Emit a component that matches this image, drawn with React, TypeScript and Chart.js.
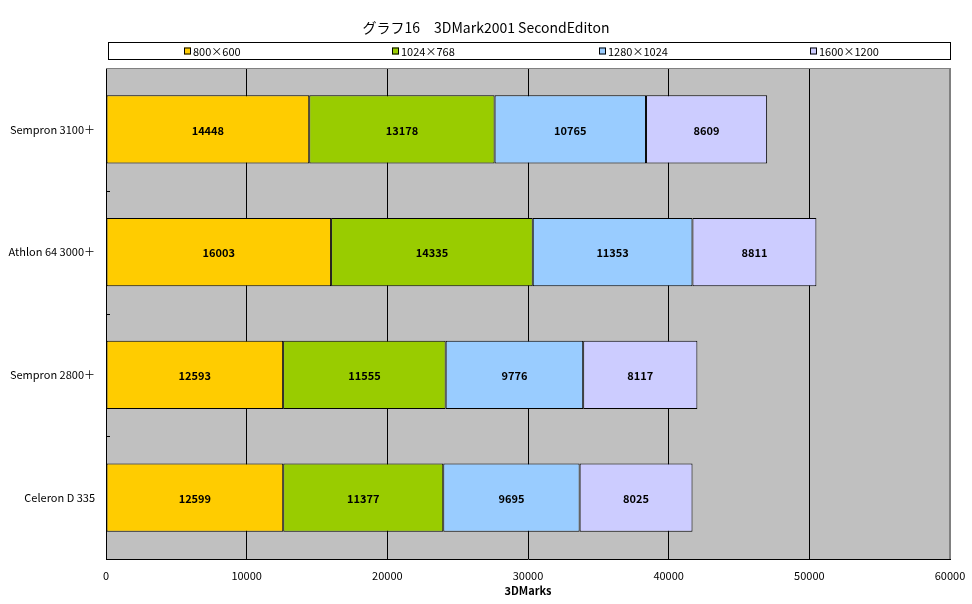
import React, { useEffect, useRef } from "react";
import { Chart, registerables } from "chart.js";

Chart.register(...registerables);

const TITLE = "グラフ16　3DMark2001 SecondEditon";
const X_TITLE = "3DMarks";
const categories = ["Sempron 3100＋", "Athlon 64 3000＋", "Sempron 2800＋", "Celeron D 335"];
const seriesNames = ["800×600", "1024×768", "1280×1024", "1600×1200"];
const seriesColors = ["#FFCC00", "#99CC00", "#99CCFF", "#CCCCFF"];
const s800 = [14448, 16003, 12593, 12599];
const s1024 = [13178, 14335, 11555, 11377];
const s1280 = [10765, 11353, 9776, 9695];
const s1600 = [8609, 8811, 8117, 8025];
const seriesValues = [s800, s1024, s1280, s1600];
const X_MIN = 0;
const X_MAX = 60000;
const X_STEP = 10000;

const FONT = "'Noto Sans CJK JP', 'Liberation Sans', sans-serif";

const decorPlugin = {
  id: "decor",
  beforeDraw(chart: any) {
    const { ctx, chartArea: a } = chart;
    ctx.save();
    ctx.fillStyle = "#C0C0C0";
    ctx.fillRect(a.left, a.top, a.right - a.left, a.bottom - a.top);
    ctx.restore();
  },
  afterDatasetsDraw(chart: any) {
    const { ctx, chartArea: a } = chart;
    ctx.save();
    // data labels
    ctx.font = "bold 11px " + FONT;
    ctx.fillStyle = "#000";
    ctx.textAlign = "center";
    ctx.textBaseline = "middle";
    chart.data.datasets.forEach((ds: any, di: number) => {
      const meta = chart.getDatasetMeta(di);
      meta.data.forEach((el: any, i: number) => {
        const x = (el.x + el.base) / 2;
        ctx.fillText(String(ds.data[i]), x, el.y + 1);
      });
    });
    // top & right borders
    ctx.strokeStyle = "#808080";
    ctx.lineWidth = 1;
    ctx.beginPath();
    ctx.moveTo(a.left, a.top + 0.5);
    ctx.lineTo(a.right, a.top + 0.5);
    ctx.moveTo(Math.round(a.right) - 0.5, a.top);
    ctx.lineTo(Math.round(a.right) - 0.5, a.bottom);
    ctx.stroke();
    // inward category ticks
    const y = chart.scales.y;
    const n = chart.data.labels.length;
    const band = (a.bottom - a.top) / n;
    ctx.strokeStyle = "#000";
    ctx.beginPath();
    for (let i = 1; i < n; i++) {
      const yy = Math.round(y.getPixelForValue(i) - band / 2) + 0.5;
      ctx.moveTo(a.left, yy);
      ctx.lineTo(a.left + 4, yy);
    }
    ctx.stroke();
    // title
    ctx.font = "14px " + FONT;
    ctx.textAlign = "center";
    ctx.fillText(TITLE, chart.width / 2, 28);
    // legend box
    const lx = 108, lr = 950, lt = 42, lb = 59;
    ctx.strokeStyle = "#000";
    ctx.strokeRect(lx + 0.5, lt + 0.5, lr - lx, lb - lt);
    const slot = (lr - lx) / chart.data.datasets.length;
    ctx.font = "11px " + FONT;
    ctx.textAlign = "left";
    chart.data.datasets.forEach((ds: any, di: number) => {
      const tw = ctx.measureText(ds.label).width;
      const total = 8 + 2 + tw;
      const sx = Math.round(lx + slot * di + slot / 2 - total / 2);
      const cy = (lt + lb) / 2 + 1;
      ctx.fillStyle = ds.backgroundColor;
      ctx.fillRect(sx, cy - 4, 7, 7);
      ctx.strokeStyle = "#000";
      ctx.strokeRect(sx + 0.5, cy - 3.5, 6, 6);
      ctx.fillStyle = "#000";
      ctx.fillText(ds.label, sx + 9, cy);
    });
    ctx.restore();
  },
};

export default function App() {
  const ref = useRef<HTMLCanvasElement | null>(null);
  useEffect(() => {
    if (!ref.current) return;
    const chart = new Chart(ref.current, {
      type: "bar",
      data: {
        labels: categories,
        datasets: seriesNames.map((name, i) => ({
          label: name,
          data: seriesValues[i],
          backgroundColor: seriesColors[i],
          borderColor: "#000",
          borderWidth: 1,
          borderSkipped: false,
          barPercentage: 0.555,
          categoryPercentage: 1,
        })),
      },
      plugins: [decorPlugin],
      options: {
        indexAxis: "y",
        animation: false,
        responsive: true,
        maintainAspectRatio: false,
        layout: { padding: { top: 68, right: 22, left: 0, bottom: 0 } },
        plugins: {
          legend: { display: false },
          title: { display: false },
          tooltip: { enabled: false },
        },
        scales: {
          x: {
            stacked: true,
            min: X_MIN,
            max: X_MAX,
            ticks: {
              stepSize: X_STEP,
              color: "#000",
              font: { family: FONT, size: 11 },
              padding: 10,
              callback: (v: any) => String(v),
            },
            grid: {
              color: (c: any) => (c.tick && c.tick.value === X_MAX ? "#808080" : "#000"),
              drawTicks: false,
              lineWidth: 1,
            },
            border: { color: "#000" },
            title: {
              display: true,
              text: X_TITLE,
              color: "#000",
              font: { family: FONT, size: 11, weight: "bold" },
              padding: { top: 0, bottom: 7 },
            },
            afterFit: (s: any) => {
              s.height = 45;
              s.paddingRight = 0;
              s.paddingLeft = 0;
            },
          },
          y: {
            stacked: true,
            ticks: {
              color: "#000",
              font: { family: FONT, size: 11 },
              padding: 3,
            },
            grid: { display: false },
            border: { color: "#000" },
            afterFit: (s: any) => {
              s.width = 106;
            },
          },
        },
      },
    });
    return () => chart.destroy();
  }, []);
  return (
    <div style={{ position: "fixed", left: 0, top: 0, width: 972, height: 604, background: "#fff" }}>
      <canvas ref={ref} />
    </div>
  );
}
